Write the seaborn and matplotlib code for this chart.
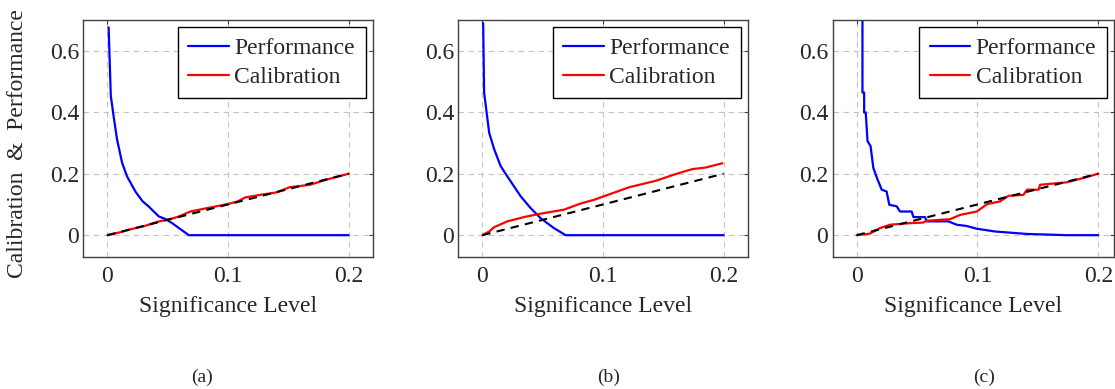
import matplotlib
matplotlib.use("Agg")
import matplotlib.pyplot as plt
import seaborn as sns

# Panel (a)
perf_a_x = [0.001, 0.0028, 0.0055, 0.008, 0.0122, 0.0163, 0.0232, 0.0292, 0.0343, 0.0426, 0.0485, 0.0537, 0.0675, 0.2]
perf_a_y = [0.676, 0.453, 0.377, 0.311, 0.235, 0.191, 0.142, 0.11, 0.093, 0.061, 0.052, 0.039, 0.0, 0.0]
cal_a_x = [0, 0.01, 0.02, 0.03, 0.043, 0.0545, 0.06, 0.0687, 0.0813, 0.1006, 0.108, 0.1144, 0.128, 0.14, 0.151, 0.168, 0.181, 0.2]
cal_a_y = [0, 0.009, 0.02, 0.029, 0.045, 0.055, 0.062, 0.077, 0.087, 0.102, 0.11, 0.123, 0.132, 0.139, 0.156, 0.164, 0.18, 0.2]

# Panel (b)
perf_b_x = [0.0006, 0.0014, 0.0056, 0.0097, 0.0152, 0.0207, 0.0318, 0.04, 0.0483, 0.0593, 0.069, 0.2]
perf_b_y = [0.69, 0.464, 0.333, 0.28, 0.224, 0.191, 0.126, 0.088, 0.055, 0.023, 0.0, 0.0]
cal_b_x = [0, 0.0056, 0.0097, 0.0207, 0.0345, 0.0483, 0.0676, 0.0814, 0.0925, 0.0996, 0.1217, 0.1438, 0.1604, 0.174, 0.185, 0.199]
cal_b_y = [0, 0.012, 0.026, 0.045, 0.059, 0.07, 0.083, 0.103, 0.115, 0.125, 0.156, 0.177, 0.199, 0.215, 0.22, 0.234]

# Panel (c)
perf_c_x = [0.0048, 0.0048, 0.0062, 0.0062, 0.0075, 0.009, 0.0115, 0.0138, 0.0168, 0.0207, 0.0248, 0.027,
            0.0331, 0.0359, 0.0455, 0.047, 0.0566, 0.058, 0.0759, 0.0828, 0.091, 0.0994, 0.1145, 0.141, 0.174, 0.2]
perf_c_y = [0.75, 0.464, 0.464, 0.399, 0.399, 0.306, 0.29, 0.219, 0.186, 0.148, 0.142, 0.099,
            0.094, 0.077, 0.077, 0.059, 0.059, 0.045, 0.045, 0.034, 0.030, 0.021, 0.012, 0.004, 0.0, 0.0]
cal_c_x = [0, 0.011, 0.0193, 0.0276, 0.044, 0.055, 0.058, 0.0773, 0.0856, 0.0994, 0.108, 0.1187, 0.1256,
           0.138, 0.141, 0.1506, 0.1518, 0.174, 0.1876, 0.2]
cal_c_y = [0, 0.005, 0.023, 0.034, 0.039, 0.041, 0.047, 0.052, 0.066, 0.077, 0.101, 0.11, 0.128,
           0.131, 0.148, 0.148, 0.164, 0.172, 0.186, 0.2]

# ideal calibration diagonal
diag = [0, 0.2]

panels = [
    ("(a)", perf_a_x, perf_a_y, cal_a_x, cal_a_y),
    ("(b)", perf_b_x, perf_b_y, cal_b_x, cal_b_y),
    ("(c)", perf_c_x, perf_c_y, cal_c_x, cal_c_y),
]
x_ticks = [0, 0.1, 0.2]
x_tick_labels = ["0", "0.1", "0.2"]
y_ticks = [0, 0.2, 0.4, 0.6]
y_tick_labels = ["0", "0.2", "0.4", "0.6"]

sns.set_style("white")
plt.rcParams["font.family"] = ["Liberation Serif", "DejaVu Serif"]

fig = plt.figure(figsize=(11.15, 3.89), dpi=100)
W, H = 1115, 389
lefts = [83.3, 458.3, 832.5]
widths = [289.5, 289.5, 281.5]
xmaxs = [0.22, 0.22, 0.213]
caption_x = [202.5, 608.5, 984.0]
bottom = 1 - 256.7 / H
height = (256.7 - 20) / H
spine_col = "#404040"

for i, (cap, px, py, cx, cy) in enumerate(panels):
    ax = fig.add_axes([lefts[i] / W, bottom, widths[i] / W, height])
    sns.lineplot(x=px, y=py, ax=ax, color="blue", lw=1.6, sort=False, estimator=None, label="Performance")
    sns.lineplot(x=cx, y=cy, ax=ax, color="red", lw=1.6, sort=False, estimator=None, label="Calibration")
    sns.lineplot(x=diag, y=diag, ax=ax, color="black", lw=1.5, linestyle=(0, (4, 3)), estimator=None)
    ax.set_xlim(-0.02, xmaxs[i])
    ax.set_ylim(-0.07, 0.7)
    ax.set_xticks(x_ticks)
    ax.set_xticklabels(x_tick_labels)
    ax.set_yticks(y_ticks)
    ax.set_yticklabels(y_tick_labels)
    ax.grid(True, linestyle=(0, (5, 4)), color="#c4c4c4", lw=0.8)
    ax.set_axisbelow(True)
    for s in ax.spines.values():
        s.set_color(spine_col)
        s.set_linewidth(1.0)
    ax.tick_params(axis="both", direction="in", length=3, width=0.8, color=spine_col,
                   top=True, right=True, labelsize=17)
    ax.tick_params(axis="x", pad=7)
    ax.tick_params(axis="y", pad=3)
    ax.set_xlabel("Significance Level", fontsize=17, labelpad=6)
    ax.set_ylabel("")
    if i == 0:
        ax.set_ylabel("Calibration  &  Performance", fontsize=17)
        ax.yaxis.set_label_coords(-0.19, 0.476)
    leg = ax.legend(loc="upper right", frameon=True, fancybox=False, edgecolor="black", framealpha=1,
                    handlelength=1.7, handletextpad=0.25, borderpad=0.45, labelspacing=0.3,
                    borderaxespad=0.3, fontsize=17)
    leg.get_frame().set_linewidth(1.0)
    fig.text(caption_x[i] / W, 1 - 377 / H, cap, ha="center", va="center", fontsize=14)

fig.savefig("out.png", dpi=100)
